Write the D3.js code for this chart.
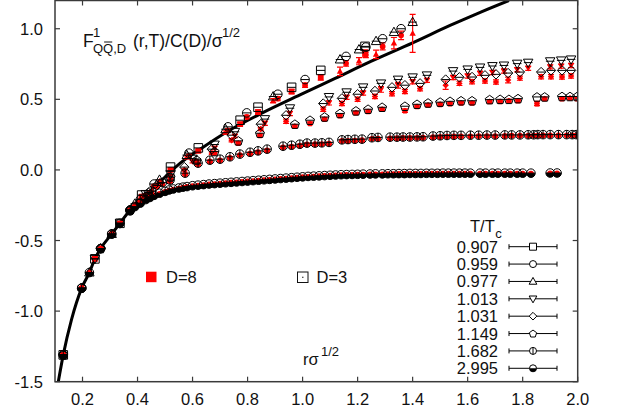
<!DOCTYPE html>
<html><head><meta charset="utf-8">
<script src="https://cdn.jsdelivr.net/npm/d3@7"></script>
<style>
body{margin:0;background:#fff}
svg{display:block}
text{font-family:"Liberation Sans",Arial,Helvetica,sans-serif;fill:#111}
</style>
</head><body>
<svg id="c" width="617" height="416"></svg>
<script>
// ---------------- data ----------------
const xTicks = [0.2, 0.4, 0.6, 0.8, 1.0, 1.2, 1.4, 1.6, 1.8, 2.0];
const yTicks = [-1.5, -1.0, -0.5, 0.0, 0.5, 1.0];
const xTickLabels = ["0.2","0.4","0.6","0.8","1.0","1.2","1.4","1.6","1.8","2.0"];
const yTickLabels = ["-1.5","-1.0","-0.5","0.0","0.5","1.0"];
const temperatures = ["0.907","0.959","0.977","1.013","1.031","1.149","1.682","2.995"];

// T=0 reference curve
const curveR = [0.112, 0.13, 0.16, 0.197, 0.225, 0.245, 0.266, 0.306, 0.336, 0.373, 0.409, 0.445, 0.5, 0.554, 0.63, 0.724, 0.85, 1.0, 1.12, 1.25, 1.4, 1.536, 1.65, 1.75];
const curveF = [-1.5, -1.31, -1.06, -0.837, -0.727, -0.63, -0.557, -0.454, -0.378, -0.284, -0.205, -0.15, -0.05, 0.046, 0.15, 0.269, 0.40, 0.54, 0.65, 0.77, 0.90, 1.023, 1.12, 1.2];

// T/Tc = 0.907
const r0907 = [0.13, 0.245, 0.336, 0.415, 0.52, 0.621, 0.773, 0.838, 0.96, 1.066, 1.227];
const d3_0907 = [-1.31, -0.63, -0.378, -0.178, 0.02, 0.156, 0.352, 0.444, 0.585, 0.705, 0.875];
const d8_0907 = [-1.31, -0.63, -0.38, -0.19, 0.0, 0.135, 0.325, 0.41, 0.555, 0.655, 0.825];
const e8_0907 = [0.004, 0.004, 0.004, 0.005, 0.008, 0.01, 0.012, 0.015, 0.015, 0.02, 0.025];

// T/Tc = 0.959
const r0959 = [0.197, 0.266, 0.373, 0.46, 0.587, 0.729, 0.797, 0.91, 1.009, 1.158, 1.23, 1.291, 1.358];
const d3_0959 = [-0.837, -0.557, -0.284, -0.10, 0.119, 0.305, 0.404, 0.536, 0.64, 0.804, 0.87, 0.929, 1.0];
const d8_0959 = [-0.837, -0.557, -0.29, -0.115, 0.10, 0.28, 0.375, 0.505, 0.60, 0.755, 0.815, 0.875, 0.953];
const e8_0959 = [0.004, 0.004, 0.005, 0.008, 0.01, 0.012, 0.012, 0.015, 0.015, 0.02, 0.02, 0.025, 0.03];

// T/Tc = 0.977
const r0977 = [0.225, 0.306, 0.39, 0.48, 0.579, 0.72, 0.893, 1.136, 1.205, 1.267, 1.332, 1.40];
const d3_0977 = [-0.727, -0.454, -0.24, -0.07, 0.105, 0.288, 0.52, 0.782, 0.853, 0.912, 0.976, 1.047];
const d8_0977 = [-0.727, -0.454, -0.245, -0.08, 0.09, 0.265, 0.49, 0.698, 0.77, 0.818, 0.898, 0.967];
const e8_0977 = [0.004, 0.004, 0.006, 0.008, 0.01, 0.012, 0.015, 0.03, 0.025, 0.03, 0.04, 0.135];

// T/Tc = 1.013
const r1013 = [0.245, 0.336, 0.43, 0.52, 0.60, 0.68, 0.754, 0.863, 0.954, 1.096, 1.16, 1.22, 1.285, 1.347, 1.40, 1.452, 1.547, 1.60, 1.645, 1.69, 1.732, 1.78, 1.82, 1.90, 1.94, 1.976];
const d3_1013 = [-0.63, -0.378, -0.17, -0.03, 0.08, 0.18, 0.27, 0.36, 0.437, 0.517, 0.55, 0.585, 0.613, 0.64, 0.656, 0.67, 0.70, 0.712, 0.726, 0.736, 0.74, 0.753, 0.76, 0.77, 0.776, 0.783];
const d8_1013 = [-0.63, -0.38, -0.18, -0.045, 0.06, 0.155, 0.24, 0.33, 0.40, 0.475, 0.515, 0.545, 0.57, 0.60, 0.625, 0.635, 0.655, 0.665, 0.685, 0.69, 0.70, 0.71, 0.72, 0.73, 0.735, 0.74];
const e8_1013 = [0.004, 0.004, 0.006, 0.008, 0.01, 0.012, 0.012, 0.015, 0.015, 0.015, 0.015, 0.015, 0.02, 0.02, 0.015, 0.015, 0.015, 0.015, 0.015, 0.015, 0.015, 0.015, 0.015, 0.015, 0.015, 0.015];

// T/Tc = 1.031
const r1031 = [0.266, 0.373, 0.47, 0.57, 0.67, 0.742, 0.848, 0.94, 1.075, 1.143, 1.20, 1.263, 1.325, 1.372, 1.427, 1.52, 1.57, 1.616, 1.663, 1.703, 1.747, 1.79, 1.867, 1.903, 1.943, 1.976];
const d3_1031 = [-0.557, -0.284, -0.11, 0.02, 0.147, 0.246, 0.324, 0.387, 0.47, 0.507, 0.536, 0.559, 0.585, 0.60, 0.613, 0.64, 0.656, 0.658, 0.67, 0.677, 0.686, 0.693, 0.693, 0.705, 0.705, 0.705];
const d8_1031 = [-0.557, -0.29, -0.12, 0.0, 0.12, 0.21, 0.29, 0.345, 0.43, 0.47, 0.50, 0.52, 0.54, 0.555, 0.575, 0.60, 0.613, 0.625, 0.63, 0.623, 0.637, 0.65, 0.66, 0.66, 0.658, 0.665];
const e8_1031 = [0.004, 0.005, 0.006, 0.008, 0.01, 0.012, 0.012, 0.015, 0.015, 0.015, 0.015, 0.015, 0.015, 0.015, 0.015, 0.03, 0.015, 0.015, 0.015, 0.015, 0.02, 0.015, 0.015, 0.015, 0.015, 0.015];

// T/Tc = 1.149
const r1149 = [0.13, 0.266, 0.373, 0.44, 0.52, 0.615, 0.68, 0.766, 0.845, 0.972, 1.027, 1.08, 1.136, 1.194, 1.238, 1.289, 1.372, 1.416, 1.456, 1.50, 1.536, 1.576, 1.616, 1.68, 1.718, 1.75, 1.783, 1.852, 1.88, 1.943, 1.972, 1.998];
const d3_1149 = [-1.31, -0.557, -0.284, -0.16, -0.05, 0.07, 0.13, 0.206, 0.26, 0.324, 0.352, 0.375, 0.40, 0.418, 0.43, 0.444, 0.451, 0.465, 0.474, 0.48, 0.486, 0.49, 0.49, 0.498, 0.50, 0.50, 0.505, 0.517, 0.517, 0.52, 0.52, 0.52];
const d8_1149 = [-1.31, -0.557, -0.284, -0.165, -0.06, 0.06, 0.12, 0.19, 0.245, 0.31, 0.33, 0.36, 0.385, 0.405, 0.415, 0.43, 0.42, 0.45, 0.46, 0.465, 0.47, 0.475, 0.475, 0.485, 0.485, 0.49, 0.49, 0.47, 0.505, 0.505, 0.51, 0.505];
const e8_1149 = [0.004, 0.004, 0.004, 0.005, 0.006, 0.008, 0.008, 0.01, 0.01, 0.01, 0.01, 0.01, 0.01, 0.01, 0.01, 0.01, 0.012, 0.01, 0.01, 0.01, 0.01, 0.01, 0.01, 0.01, 0.01, 0.01, 0.01, 0.015, 0.01, 0.01, 0.01, 0.01];

// T/Tc = 1.682
const r1682 = [0.13, 0.197, 0.306, 0.373, 0.41, 0.45, 0.49, 0.518, 0.573, 0.62, 0.663, 0.70, 0.736, 0.772, 0.809, 0.838, 0.871, 0.929, 0.96, 0.99, 1.016, 1.045, 1.07, 1.096, 1.143, 1.165, 1.19, 1.216, 1.252, 1.274, 1.318, 1.343, 1.365, 1.39, 1.416, 1.438, 1.474, 1.50, 1.525, 1.55, 1.576, 1.61, 1.64, 1.67, 1.70, 1.735, 1.76, 1.79, 1.82, 1.84, 1.855, 1.874, 1.90, 1.93, 1.96, 1.98, 1.995];
const d3_1682 = [-1.31, -0.837, -0.454, -0.284, -0.21, -0.15, -0.09, -0.072, -0.023, 0.048, 0.069, 0.076, 0.093, 0.112, 0.125, 0.135, 0.147, 0.168, 0.175, 0.182, 0.19, 0.19, 0.192, 0.195, 0.213, 0.215, 0.217, 0.218, 0.228, 0.23, 0.232, 0.232, 0.233, 0.233, 0.234, 0.235, 0.24, 0.242, 0.244, 0.245, 0.245, 0.246, 0.246, 0.247, 0.247, 0.248, 0.248, 0.248, 0.249, 0.249, 0.25, 0.25, 0.25, 0.25, 0.25, 0.25, 0.25];
const d8_1682 = [-1.31, -0.837, -0.454, -0.284, -0.215, -0.155, -0.1, -0.08, -0.03, 0.04, 0.06, 0.068, 0.085, 0.105, 0.115, 0.125, 0.138, 0.16, 0.165, 0.172, 0.18, 0.182, 0.183, 0.186, 0.205, 0.205, 0.208, 0.21, 0.22, 0.222, 0.224, 0.225, 0.226, 0.226, 0.227, 0.228, 0.232, 0.234, 0.236, 0.237, 0.238, 0.238, 0.24, 0.24, 0.24, 0.241, 0.242, 0.242, 0.242, 0.243, 0.243, 0.244, 0.244, 0.244, 0.245, 0.245, 0.245];

// T/Tc = 2.995
const r2995 = [0.13, 0.197, 0.225, 0.266, 0.306, 0.336, 0.373, 0.39, 0.41, 0.43, 0.445, 0.46, 0.48, 0.50, 0.515, 0.53, 0.55, 0.565, 0.58, 0.60, 0.62, 0.64, 0.66, 0.68, 0.70, 0.72, 0.74, 0.76, 0.78, 0.80, 0.82, 0.84, 0.86, 0.88, 0.90, 0.92, 0.94, 0.96, 0.98, 1.00, 1.02, 1.04, 1.06, 1.08, 1.10, 1.12, 1.14, 1.16, 1.18, 1.20, 1.22, 1.245, 1.265, 1.29, 1.31, 1.33, 1.35, 1.37, 1.39, 1.41, 1.43, 1.45, 1.47, 1.49, 1.51, 1.53, 1.55, 1.57, 1.59, 1.61, 1.645, 1.665, 1.69, 1.71, 1.735, 1.755, 1.78, 1.80, 1.83, 1.90, 1.925];
const d3_2995 = [-1.31, -0.837, -0.727, -0.557, -0.454, -0.378, -0.29, -0.26, -0.235, -0.21, -0.195, -0.18, -0.165, -0.152, -0.142, -0.135, -0.128, -0.122, -0.118, -0.112, -0.108, -0.104, -0.1, -0.097, -0.094, -0.091, -0.088, -0.085, -0.082, -0.079, -0.076, -0.073, -0.07, -0.067, -0.064, -0.061, -0.058, -0.055, -0.052, -0.049, -0.046, -0.044, -0.042, -0.04, -0.038, -0.036, -0.034, -0.033, -0.032, -0.031, -0.03, -0.029, -0.028, -0.028, -0.027, -0.027, -0.026, -0.026, -0.025, -0.025, -0.025, -0.024, -0.024, -0.024, -0.023, -0.023, -0.023, -0.023, -0.023, -0.023, -0.023, -0.023, -0.023, -0.023, -0.023, -0.023, -0.023, -0.023, -0.023, -0.022, -0.022];
const d8_2995 = [-1.31, -0.837, -0.727, -0.557, -0.454, -0.378, -0.292, -0.263, -0.238, -0.214, -0.199, -0.184, -0.169, -0.156, -0.146, -0.139, -0.132, -0.126, -0.121, -0.115, -0.111, -0.107, -0.103, -0.1, -0.097, -0.094, -0.091, -0.088, -0.085, -0.082, -0.079, -0.076, -0.073, -0.07, -0.067, -0.064, -0.061, -0.058, -0.055, -0.052, -0.049, -0.047, -0.045, -0.043, -0.041, -0.039, -0.037, -0.036, -0.035, -0.034, -0.033, -0.032, -0.031, -0.031, -0.03, -0.03, -0.029, -0.029, -0.028, -0.028, -0.028, -0.027, -0.027, -0.027, -0.026, -0.026, -0.026, -0.026, -0.026, -0.026, -0.026, -0.026, -0.026, -0.026, -0.026, -0.026, -0.026, -0.026, -0.026, -0.025, -0.025];

// ---------------- styling (not data) ----------------
const plot = {left: 55, right: 577.7, top: 0.5, bottom: 381.7};
const shapeOf = ["square","circle","triUp","triDown","diamond","pentagon","circleBar","halfCircle"];
const seriesList = [
  {T: temperatures[0], r: r0907, f3: d3_0907, f8: d8_0907, e8: e8_0907},
  {T: temperatures[1], r: r0959, f3: d3_0959, f8: d8_0959, e8: e8_0959},
  {T: temperatures[2], r: r0977, f3: d3_0977, f8: d8_0977, e8: e8_0977},
  {T: temperatures[3], r: r1013, f3: d3_1013, f8: d8_1013, e8: e8_1013},
  {T: temperatures[4], r: r1031, f3: d3_1031, f8: d8_1031, e8: e8_1031},
  {T: temperatures[5], r: r1149, f3: d3_1149, f8: d8_1149, e8: e8_1149},
  {T: temperatures[6], r: r1682, f3: d3_1682, f8: d8_1682, e8: null},
  {T: temperatures[7], r: r2995, f3: d3_2995, f8: d8_2995, e8: null}
];
seriesList.forEach((s,i)=> s.shape = shapeOf[i]);

const svg = d3.select("#c");
const x = d3.scaleLinear().domain([0.1, 2.0]).range([plot.left, plot.right]);
const y = d3.scaleLinear().domain([-1.5, 1.2]).range([plot.bottom, plot.top]);

const FS = 16.5, SUB = 13;
const axisColor = "#3a3a3a";

function symbolPath(type, h){
  switch(type){
    case "square": return `M${-h},${-h}H${h}V${h}H${-h}Z`;
    case "triUp": return `M0,${-h*1.15}L${h*1.1},${h*0.8}L${-h*1.1},${h*0.8}Z`;
    case "triDown": return `M0,${h*1.15}L${h*1.1},${-h*0.8}L${-h*1.1},${-h*0.8}Z`;
    case "diamond": return `M0,${-h*1.1}L${h*1.1},0L0,${h*1.1}L${-h*1.1},0Z`;
    case "pentagon": {
      const pts = d3.range(5).map(k=>{const a=-Math.PI/2+k*2*Math.PI/5; return [h*1.1*Math.cos(a), h*1.1*Math.sin(a)+h*0.1];});
      return "M"+pts.map(p=>p.join(",")).join("L")+"Z";
    }
    default: return `M${h},0A${h},${h} 0 1,1 ${-h},0A${h},${h} 0 1,1 ${h},0Z`;
  }
}

function drawSymbol(g, type, cx, cy, h, filled, color){
  const p = g.append("path").attr("transform",`translate(${cx},${cy})`).attr("d", symbolPath(type,h));
  if(filled){ p.attr("fill", color).attr("stroke","none"); }
  else {
    p.attr("fill","none").attr("stroke",color).attr("stroke-width",1);
    if(type==="circleBar"){
      g.append("line").attr("x1",cx).attr("x2",cx).attr("y1",cy-h).attr("y2",cy+h).attr("stroke",color).attr("stroke-width",1);
    }
    if(type==="halfCircle"){
      g.append("path").attr("transform",`translate(${cx},${cy})`).attr("d",`M${-h},0A${h},${h} 0 0,0 ${h},0Z`).attr("fill",color);
    }
  }
}

// clip
svg.append("defs").append("clipPath").attr("id","clip").append("rect")
  .attr("x",plot.left).attr("y",plot.top).attr("width",plot.right-plot.left).attr("height",plot.bottom-plot.top);

// curve
svg.append("path")
  .datum(curveR.map((r,i)=>[r,curveF[i]]))
  .attr("clip-path","url(#clip)")
  .attr("fill","none").attr("stroke","#000").attr("stroke-width",3)
  .attr("d", d3.line().x(d=>x(d[0])).y(d=>y(d[1])).curve(d3.curveMonotoneX));

const pts = svg.append("g").attr("clip-path","url(#clip)");
const hB = 4.3, hR = 2.9;
// D=8 red filled with error bars (drawn first)
seriesList.forEach(s=>{
  s.r.forEach((r,i)=>{
    const cx = x(r), cy = y(s.f8[i]);
    const g = pts.append("g");
    drawSymbol(g, s.shape, cx, cy, hR, true, "#ff0000");
    const e = s.e8 ? s.e8[i] : 0.004;
    const y1 = y(s.f8[i]+e), y2 = y(s.f8[i]-e);
    g.append("line").attr("x1",cx).attr("x2",cx).attr("y1",y1).attr("y2",y2).attr("stroke","#ff0000").attr("stroke-width",1.2);
    [y1,y2].forEach(yy=> g.append("line").attr("x1",cx-3).attr("x2",cx+3).attr("y1",yy).attr("y2",yy).attr("stroke","#ff0000").attr("stroke-width",1.2));
  });
});
// D=3 black open on top
seriesList.forEach(s=>{
  s.r.forEach((r,i)=>{
    const cx = x(r), cy = y(s.f3[i]);
    const g = pts.append("g");
    drawSymbol(g, s.shape, cx, cy, hB, false, "#000");
    g.append("line").attr("x1",cx-hB).attr("x2",cx+hB).attr("y1",cy).attr("y2",cy).attr("stroke","#000").attr("stroke-width",1);
  });
});

// frame & ticks
const ax = svg.append("g");
ax.append("rect").attr("x",plot.left).attr("y",plot.top).attr("width",plot.right-plot.left).attr("height",plot.bottom-plot.top)
  .attr("fill","none").attr("stroke",axisColor).attr("stroke-width",1.5);
xTicks.forEach((t,i)=>{
  const px = x(t);
  ax.append("line").attr("x1",px).attr("x2",px).attr("y1",plot.bottom).attr("y2",plot.bottom-5).attr("stroke",axisColor).attr("stroke-width",1.2);
  ax.append("line").attr("x1",px).attr("x2",px).attr("y1",plot.top).attr("y2",plot.top+5).attr("stroke",axisColor).attr("stroke-width",1.2);
  ax.append("text").attr("x",px).attr("y",405).attr("text-anchor","middle").attr("font-size",FS).text(xTickLabels[i]);
});
yTicks.forEach((t,i)=>{
  const py = y(t);
  ax.append("line").attr("x1",plot.left).attr("x2",plot.left+5).attr("y1",py).attr("y2",py).attr("stroke",axisColor).attr("stroke-width",1.2);
  ax.append("line").attr("x1",plot.right).attr("x2",plot.right-5).attr("y1",py).attr("y2",py).attr("stroke",axisColor).attr("stroke-width",1.2);
  ax.append("text").attr("x",43).attr("y",py+6).attr("text-anchor","end").attr("font-size",FS).text(yTickLabels[i]);
});

// y title (inside plot, top-left)
const tg = svg.append("g");
tg.append("text").attr("x",83).attr("y",46.5).attr("font-size",17.5).text("F");
tg.append("text").attr("x",93).attr("y",37).attr("font-size",SUB).text("1");
const subT = tg.append("text").attr("x",93).attr("y",53).attr("font-size",SUB).text("QQ,D");
tg.append("text").attr("x",133).attr("y",46.5).attr("font-size",17.5).text("(r,T)/C(D)/σ");
tg.append("text").attr("x",222).attr("y",37).attr("font-size",SUB).text("1/2");
const ext = subT.node().getExtentOfChar(1);
tg.append("line").attr("x1",ext.x+1).attr("x2",ext.x+ext.width-1).attr("y1",ext.y+1).attr("y2",ext.y+1).attr("stroke","#111").attr("stroke-width",1);

// x title
svg.append("text").attr("x",303).attr("y",365).attr("font-size",FS).text("rσ");
svg.append("text").attr("x",321).attr("y",356).attr("font-size",SUB).text("1/2");

// D legend
svg.append("rect").attr("x",146).attr("y",271.7).attr("width",10.5).attr("height",10.5).attr("fill","#ff0000");
svg.append("text").attr("x",166).attr("y",282.5).attr("font-size",FS).text("D=8");
svg.append("rect").attr("x",297.5).attr("y",272).attr("width",10.5).attr("height",10.5).attr("fill","none").attr("stroke","#111").attr("stroke-width",1);
svg.append("rect").attr("x",302.2).attr("y",276.7).attr("width",1.2).attr("height",1.2).attr("fill","#111");
svg.append("text").attr("x",316.5).attr("y",282.5).attr("font-size",FS).text("D=3");

// T legend
const lg = svg.append("g");
const tt = lg.append("text").attr("x",470).attr("y",232).attr("font-size",FS).text("T/T");
const ttW = tt.node().getComputedTextLength();
lg.append("text").attr("x",470+ttW+0.5).attr("y",238).attr("font-size",SUB).text("c");
seriesList.forEach((s,i)=>{
  const cy = 246.7 + i*17.37;
  lg.append("text").attr("x",498).attr("y",cy+6).attr("text-anchor","end").attr("font-size",FS).text(s.T);
  lg.append("line").attr("x1",509).attr("x2",557).attr("y1",cy).attr("y2",cy).attr("stroke","#000").attr("stroke-width",1);
  [509,557].forEach(xx=> lg.append("line").attr("x1",xx).attr("x2",xx).attr("y1",cy-2.5).attr("y2",cy+2.5).attr("stroke","#000").attr("stroke-width",1));
  const g = lg.append("g");
  g.append("path").attr("transform",`translate(533,${cy})`).attr("d",symbolPath(s.shape,3.5)).attr("fill","#fff").attr("stroke","none");
  drawSymbol(g, s.shape, 533, cy, 3.5, false, "#000");
});
</script>
</body></html>
